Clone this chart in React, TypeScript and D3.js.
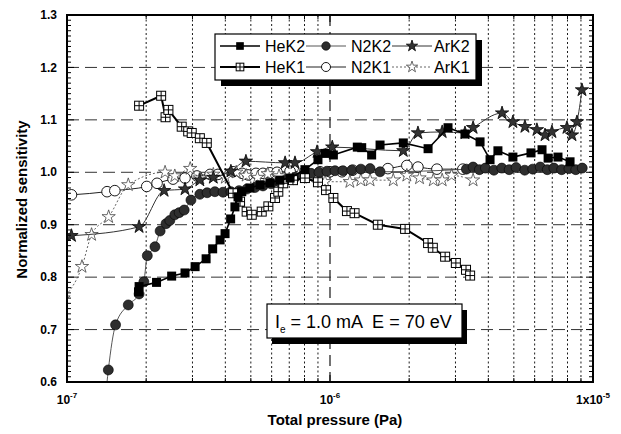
import React, { useRef, useEffect } from 'react'
import * as d3 from 'd3'

// [pressure (Pa), normalized sensitivity]
const heK2 = [
  [1.87e-7, 0.772], [1.88e-7, 0.782], [2.19e-7, 0.79], [2.5e-7, 0.802], [2.81e-7, 0.808],
  [3.07e-7, 0.82], [3.38e-7, 0.835], [3.58e-7, 0.854], [3.82e-7, 0.871], [3.99e-7, 0.883],
  [4.19e-7, 0.911], [4.35e-7, 0.934], [4.47e-7, 0.953], [4.62e-7, 0.963], [4.96e-7, 0.97],
  [5.42e-7, 0.976], [5.91e-7, 0.98], [6.45e-7, 0.985], [7.05e-7, 0.989], [8.03e-7, 1.005],
  [9.0e-7, 1.024], [9.57e-7, 1.036], [1.03e-6, 1.033], [1.27e-6, 1.048], [1.32e-6, 1.047],
  [1.44e-6, 1.033], [1.55e-6, 1.052], [1.9e-6, 1.056], [2.36e-6, 1.045], [2.81e-6, 1.085],
  [3.26e-6, 1.073], [3.72e-6, 1.058], [4.06e-6, 1.024], [4.35e-6, 1.041], [4.96e-6, 1.029],
  [5.81e-6, 1.037], [6.4e-6, 1.043], [6.75e-6, 1.027], [7.36e-6, 1.029], [8.18e-6, 1.02]
]

const heK1 = [
  [1.88e-7, 1.127], [2.28e-7, 1.146], [2.37e-7, 1.105], [2.43e-7, 1.119], [2.73e-7, 1.087],
  [2.89e-7, 1.078], [2.98e-7, 1.075], [3.2e-7, 1.065], [3.4e-7, 1.056], [4.28e-7, 0.96],
  [4.55e-7, 0.944], [4.82e-7, 0.925], [5.04e-7, 0.919], [5.5e-7, 0.925], [5.83e-7, 0.935],
  [6.18e-7, 0.951], [6.36e-7, 0.963], [6.64e-7, 0.979], [7.23e-7, 0.985], [8.03e-7, 0.989],
  [9.0e-7, 0.981], [9.66e-7, 0.966], [1.03e-6, 0.951], [1.16e-6, 0.926], [1.24e-6, 0.922],
  [1.52e-6, 0.9], [1.93e-6, 0.892], [2.36e-6, 0.865], [2.46e-6, 0.856], [2.74e-6, 0.839],
  [3.01e-6, 0.827], [3.29e-6, 0.814], [3.41e-6, 0.803]
]

const n2K2 = [
  [1.4e-7, 0.57], [1.436e-7, 0.623], [1.53e-7, 0.709], [1.71e-7, 0.747], [1.88e-7, 0.768],
  [1.96e-7, 0.791], [2.02e-7, 0.841], [2.16e-7, 0.858], [2.26e-7, 0.888], [2.38e-7, 0.902],
  [2.46e-7, 0.908], [2.57e-7, 0.919], [2.67e-7, 0.923], [2.79e-7, 0.928], [2.96e-7, 0.947],
  [3.2e-7, 0.958], [3.41e-7, 0.961], [3.65e-7, 0.963], [3.92e-7, 0.962], [4.2e-7, 0.963],
  [4.51e-7, 0.965], [4.83e-7, 0.968], [5.19e-7, 0.971], [5.56e-7, 0.974], [5.97e-7, 0.978],
  [6.4e-7, 0.982], [6.86e-7, 0.986], [7.36e-7, 0.99], [7.89e-7, 0.994], [8.47e-7, 0.998],
  [9.08e-7, 1.0], [9.74e-7, 1.002], [1.045e-6, 1.003], [1.12e-6, 1.003], [1.21e-6, 1.004],
  [1.31e-6, 1.006], [1.42e-6, 1.007], [1.55e-6, 1.001], [3.3e-6, 1.006], [3.5e-6, 1.01],
  [3.7e-6, 1.005], [3.9e-6, 1.008], [4.2e-6, 1.004], [4.5e-6, 1.008], [4.8e-6, 1.005],
  [5.1e-6, 1.009], [5.5e-6, 1.004], [5.9e-6, 1.006], [6.3e-6, 1.01], [6.7e-6, 1.005],
  [7.1e-6, 1.008], [7.6e-6, 1.005], [8.1e-6, 1.007], [8.6e-6, 1.005], [9.1e-6, 1.008]
]

const n2K1 = [
  [1.04e-7, 0.957], [1.42e-7, 0.963], [1.52e-7, 0.965], [2.01e-7, 0.973], [2.2e-7, 0.979],
  [2.53e-7, 0.987], [2.81e-7, 0.989], [3.12e-7, 0.993], [3.5e-7, 0.996], [3.75e-7, 0.996],
  [4.28e-7, 1.001], [4.63e-7, 0.998], [4.88e-7, 0.995], [5.23e-7, 0.998], [5.56e-7, 0.998],
  [5.91e-7, 0.999], [6.29e-7, 1.0], [7.05e-7, 1.002], [8.03e-7, 1.001], [9.16e-7, 1.001],
  [1.0e-6, 1.001], [1.11e-6, 1.001], [1.22e-6, 1.004], [1.66e-6, 1.007], [1.96e-6, 1.013],
  [2.16e-6, 1.01], [2.55e-6, 1.006], [3.2e-6, 1.006]
]

const arK2 = [
  [1.04e-7, 0.879], [1.88e-7, 0.896], [2.34e-7, 0.965], [2.81e-7, 0.968], [3.2e-7, 0.985],
  [3.6e-7, 0.99], [4.2e-7, 1.002], [4.79e-7, 1.021], [6.75e-7, 1.018], [7.36e-7, 1.018],
  [8.93e-7, 1.039], [1.02e-6, 1.048], [1.9e-6, 1.041], [2.16e-6, 1.075], [2.67e-6, 1.077],
  [3.26e-6, 1.075], [3.5e-6, 1.085], [4.51e-6, 1.113], [4.96e-6, 1.096], [5.51e-6, 1.087],
  [6.12e-6, 1.081], [6.57e-6, 1.071], [6.98e-6, 1.077], [7.96e-6, 1.085], [8.32e-6, 1.071],
  [8.69e-6, 1.096], [9.08e-6, 1.157]
]

const arK1 = [
  [0.97e-7, 0.76], [1.14e-7, 0.82], [1.24e-7, 0.881], [1.44e-7, 0.915], [1.71e-7, 0.976],
  [2.36e-7, 1.0], [2.57e-7, 0.993], [2.94e-7, 1.007], [3.2e-7, 0.989], [3.6e-7, 0.996],
  [4.0e-7, 0.99], [4.4e-7, 1.0], [4.8e-7, 0.994], [5.3e-7, 0.99], [5.8e-7, 0.997],
  [6.4e-7, 0.993], [7.0e-7, 0.987], [7.6e-7, 0.995], [8.4e-7, 0.99], [9.57e-7, 0.982],
  [1.19e-6, 0.982], [1.31e-6, 0.985], [1.42e-6, 0.985], [1.74e-6, 0.985], [1.96e-6, 0.994],
  [2.19e-6, 0.989], [2.47e-6, 0.985], [2.67e-6, 0.985], [2.9e-6, 0.994], [3.5e-6, 0.985]
]

const yTickLabels = ['0.6', '0.7', '0.8', '0.9', '1.0', '1.1', '1.2', '1.3']
const xTickLabels = [
  { v: 1e-7, pre: '10', sup: '-7' },
  { v: 1e-6, pre: '10', sup: '-6' },
  { v: 1e-5, pre: '1x10', sup: '-5' }
]

const series = [
  { name: 'N2K1', data: n2K1, marker: 'openCircle', stroke: '#222', width: 1, dash: null, curve: true },
  { name: 'ArK1', data: arK1, marker: 'openStar', stroke: '#555', width: 0.9, dash: '2,2', curve: true },
  { name: 'ArK2', data: arK2, marker: 'star', stroke: '#333', width: 1, dash: null, curve: true },
  { name: 'N2K2', data: n2K2, marker: 'circle', stroke: '#444', width: 0.9, dash: null, curve: true },
  { name: 'HeK1', data: heK1, marker: 'crossSquare', stroke: '#000', width: 2, dash: null, curve: false },
  { name: 'HeK2', data: heK2, marker: 'square', stroke: '#000', width: 1.6, dash: null, curve: false }
]

// legend layout: [series name, column, row]
const legendOrder = [
  ['HeK2', 0, 0], ['N2K2', 1, 0], ['ArK2', 2, 0],
  ['HeK1', 0, 1], ['N2K1', 1, 1], ['ArK1', 2, 1]
]

function drawMarker(g, type, cx, cy, scale = 1) {
  const h = 4.5 * scale
  if (type === 'square') {
    g.append('rect').attr('x', cx - h).attr('y', cy - h).attr('width', 2 * h).attr('height', 2 * h).attr('fill', '#000')
  } else if (type === 'crossSquare') {
    g.append('rect').attr('x', cx - h).attr('y', cy - h).attr('width', 2 * h).attr('height', 2 * h)
      .attr('fill', '#fff').attr('stroke', '#000').attr('stroke-width', 1)
    g.append('path').attr('d', `M${cx - h},${cy}H${cx + h}M${cx},${cy - h}V${cy + h}`)
      .attr('stroke', '#000').attr('stroke-width', 1)
  } else if (type === 'circle') {
    g.append('circle').attr('cx', cx).attr('cy', cy).attr('r', 5 * scale).attr('fill', '#2e2e2e')
      .attr('stroke', '#000').attr('stroke-width', 0.6)
  } else if (type === 'openCircle') {
    g.append('circle').attr('cx', cx).attr('cy', cy).attr('r', 5.3 * scale).attr('fill', '#fff')
      .attr('stroke', '#000').attr('stroke-width', 0.9)
  } else {
    const star = d3.symbol().type(d3.symbolStar).size(55 * scale * scale)
    g.append('path').attr('d', star()).attr('transform', `translate(${cx},${cy})`)
      .attr('fill', type === 'star' ? '#333' : '#fff')
      .attr('stroke', type === 'star' ? '#000' : '#444').attr('stroke-width', 0.8)
  }
}

function App() {
  const ref = useRef(null)

  useEffect(() => {
    const root = d3.select(ref.current)
    root.selectAll('*').remove()

    const margin = { top: 15, right: 28, bottom: 52, left: 67 }
    const W = 621
    const H = 434
    const width = W - margin.left - margin.right
    const height = H - margin.top - margin.bottom

    const svg = root.append('svg').attr('width', W).attr('height', H)
      .style('position', 'absolute').style('left', 0).style('top', 0)
      .style('background', '#fff')
      .style('font-family', 'Arial, "Liberation Sans", Helvetica, sans-serif')

    const g = svg.append('g').attr('transform', `translate(${margin.left},${margin.top})`)

    const x = d3.scaleLog().domain([1e-7, 1e-5]).range([0, width])
    const y = d3.scaleLinear().domain([0.6, 1.3]).range([height, 0])

    svg.append('defs').append('clipPath').attr('id', 'plotclip')
      .append('rect').attr('width', width).attr('height', height)

    // vertical grid: minor dotted, decade dashed
    const minor = []
    for (let e = -7; e < -5; e++) {
      for (let k = 2; k <= 9; k++) minor.push(k * Math.pow(10, e))
    }
    g.selectAll('.vminor').data(minor).join('line')
      .attr('x1', d => x(d)).attr('x2', d => x(d)).attr('y1', 0).attr('y2', height)
      .attr('stroke', '#000').attr('stroke-width', 0.9).attr('stroke-dasharray', '2,2.5')
    g.append('line').attr('x1', x(1e-6)).attr('x2', x(1e-6)).attr('y1', 0).attr('y2', height)
      .attr('stroke', '#000').attr('stroke-width', 1.1).attr('stroke-dasharray', '11,6')

    // horizontal grid
    const yMajor = yTickLabels.map(Number)
    g.selectAll('.hgrid').data(yMajor.slice(1, -1)).join('line')
      .attr('x1', 0).attr('x2', width).attr('y1', d => y(d)).attr('y2', d => y(d))
      .attr('stroke', '#333').attr('stroke-width', 1).attr('stroke-dasharray', '12,6')

    // series
    const plot = g.append('g').attr('clip-path', 'url(#plotclip)')
    series.forEach(s => {
      const line = d3.line().x(d => x(d[0])).y(d => y(d[1]))
        .curve(s.curve ? d3.curveMonotoneX : d3.curveLinear)
      plot.append('path').datum(s.data).attr('d', line).attr('fill', 'none')
        .attr('stroke', s.stroke).attr('stroke-width', s.width)
        .attr('stroke-dasharray', s.dash)
      const mg = plot.append('g')
      s.data.forEach(d => drawMarker(mg, s.marker, x(d[0]), y(d[1])))
    })

    // axes frame and inward ticks
    const minorY = d3.range(60, 131).map(v => v / 100)
    g.selectAll('.ytl').data(minorY).join('line')
      .attr('x1', 0).attr('x2', d => (Math.round(d * 100) % 10 === 0 ? 7 : 4))
      .attr('y1', d => y(d)).attr('y2', d => y(d)).attr('stroke', '#000').attr('stroke-width', 1)
    g.selectAll('.ytr').data(minorY).join('line')
      .attr('x1', width).attr('x2', d => width - (Math.round(d * 100) % 10 === 0 ? 7 : 4))
      .attr('y1', d => y(d)).attr('y2', d => y(d)).attr('stroke', '#000').attr('stroke-width', 1)
    g.selectAll('.xtb').data(minor.concat([1e-6])).join('line')
      .attr('x1', d => x(d)).attr('x2', d => x(d)).attr('y1', height).attr('y2', d => height - (d === 1e-6 ? 7 : 4))
      .attr('stroke', '#000').attr('stroke-width', 1)
    g.selectAll('.xtt').data(minor.concat([1e-6])).join('line')
      .attr('x1', d => x(d)).attr('x2', d => x(d)).attr('y1', 0).attr('y2', d => (d === 1e-6 ? 7 : 4))
      .attr('stroke', '#000').attr('stroke-width', 1)
    g.append('rect').attr('width', width).attr('height', height)
      .attr('fill', 'none').attr('stroke', '#000').attr('stroke-width', 2)

    // y tick labels
    g.selectAll('.ylab').data(yTickLabels).join('text')
      .attr('x', -10).attr('y', d => y(+d)).attr('dy', '0.35em')
      .attr('text-anchor', 'end').style('font-size', '12px').style('font-weight', 'bold')
      .text(d => d)

    // x tick labels
    xTickLabels.forEach(t => {
      const txt = g.append('text').attr('x', x(t.v)).attr('y', height + 22)
        .attr('text-anchor', 'middle').style('font-size', '12px').style('font-weight', 'bold')
      txt.append('tspan').text(t.pre)
      txt.append('tspan').attr('dy', -6).style('font-size', '8px').text(t.sup)
    })

    // axis titles
    svg.append('text').attr('x', 335).attr('y', 425).attr('text-anchor', 'middle')
      .style('font-size', '15px').style('font-weight', 'bold').text('Total pressure (Pa)')
    svg.append('text').attr('transform', `translate(27,${margin.top + height / 2 + 1}) rotate(-90)`)
      .attr('text-anchor', 'middle').style('font-size', '15px').style('font-weight', 'bold')
      .text('Normalized sensitivity')

    // legend box
    const lx = 215, ly = 34, lw = 261, lh = 46
    svg.append('rect').attr('x', lx + 6).attr('y', ly + 6).attr('width', lw).attr('height', lh).attr('fill', '#000')
    svg.append('rect').attr('x', lx).attr('y', ly).attr('width', lw).attr('height', lh)
      .attr('fill', '#fff').attr('stroke', '#000').attr('stroke-width', 1.2)
    const colX = [220, 306, 392]
    const colText = [265, 351, 434]
    legendOrder.forEach(([name, c, r]) => {
      const s = series.find(d => d.name === name)
      const yy = ly + 12 + r * 21
      const lg = svg.append('g')
      lg.append('line').attr('x1', colX[c]).attr('x2', colX[c] + 40).attr('y1', yy).attr('y2', yy)
        .attr('stroke', s.stroke).attr('stroke-width', s.width).attr('stroke-dasharray', s.dash)
      drawMarker(lg, s.marker, colX[c] + 20, yy, 0.85)
      lg.append('text').attr('x', colText[c]).attr('y', yy).attr('dy', '0.36em')
        .style('font-size', '16px').text(name)
    })

    // condition box
    const bx = 267, by = 304, bw = 195, bh = 34
    svg.append('rect').attr('x', bx + 5).attr('y', by + 6).attr('width', bw).attr('height', bh).attr('fill', '#000')
    svg.append('rect').attr('x', bx).attr('y', by).attr('width', bw).attr('height', bh)
      .attr('fill', '#fff').attr('stroke', '#000').attr('stroke-width', 1.2)
    const cond = svg.append('text').attr('x', bx + 8).attr('y', by + 24).style('font-size', '18px')
      .style('white-space', 'pre')
    cond.append('tspan').text('I')
    cond.append('tspan').attr('dy', 5).style('font-size', '10px').text('e')
    cond.append('tspan').attr('dy', -5).text(' = 1.0 mA  E = 70 eV')
  }, [])

  return <div ref={ref}></div>
}

export default App
